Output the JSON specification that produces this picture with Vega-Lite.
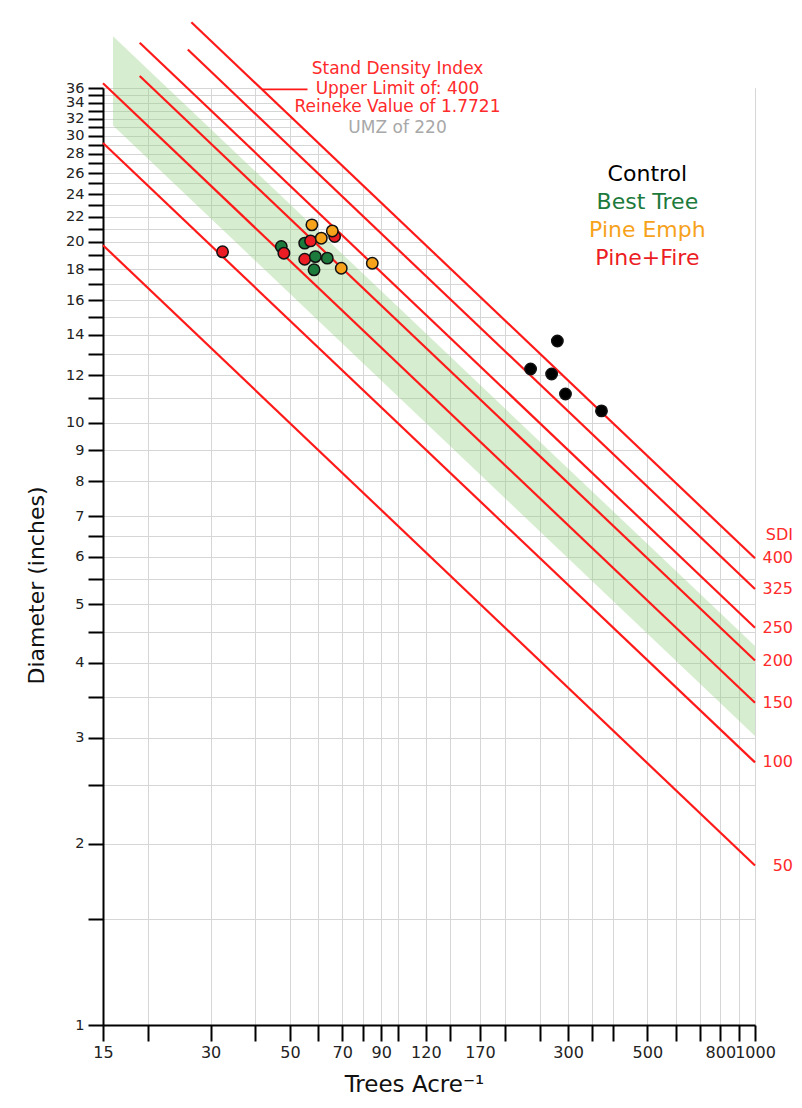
{
  "$schema": "https://vega.github.io/schema/vega-lite/v6.json",
  "width": 652,
  "height": 937,
  "autosize": {"type": "none"},
  "padding": {"left": 103, "top": 88, "right": 47, "bottom": 83},
  "background": "white",
  "config": {
    "font": "DejaVu Sans",
    "view": {"stroke": null},
    "axis": {
      "grid": true,
      "gridColor": "#d6d6d6",
      "gridWidth": 1,
      "domainColor": "#000000",
      "domainWidth": 2,
      "tickColor": "#000000",
      "tickWidth": 2,
      "labelColor": "#222222",
      "labelFontSize": 17,
      "labelOverlap": false,
      "labelFlush": false,
      "labelBound": false,
      "titleColor": "#111111",
      "titleFontWeight": "normal",
      "titleFontSize": 22
    }
  },
  "datasets": {
    "sdi": [
      {"sdi": 400, "tpa": 26.5, "d": 46.3}, {"sdi": 400, "tpa": 1000, "d": 5.96},
      {"sdi": 325, "tpa": 25.9, "d": 41.7}, {"sdi": 325, "tpa": 1000, "d": 5.30},
      {"sdi": 250, "tpa": 19.0, "d": 42.8}, {"sdi": 250, "tpa": 1000, "d": 4.57},
      {"sdi": 200, "tpa": 19.0, "d": 37.7}, {"sdi": 200, "tpa": 1000, "d": 4.03},
      {"sdi": 150, "tpa": 15, "d": 36.66}, {"sdi": 150, "tpa": 1000, "d": 3.43},
      {"sdi": 100, "tpa": 15, "d": 29.17}, {"sdi": 100, "tpa": 1000, "d": 2.73},
      {"sdi": 50, "tpa": 15, "d": 19.73}, {"sdi": 50, "tpa": 1000, "d": 1.84}
    ],
    "umz": [
      {"tpa": 16, "upper": 43.9, "lower": 31.2},
      {"tpa": 1000, "upper": 4.26, "lower": 3.02}
    ],
    "stands": [
      {"treatment": "Control", "tpa": 235.6, "dbh": 12.29},
      {"treatment": "Control", "tpa": 269.8, "dbh": 12.06},
      {"treatment": "Control", "tpa": 280, "dbh": 13.68},
      {"treatment": "Control", "tpa": 295, "dbh": 11.17},
      {"treatment": "Control", "tpa": 372, "dbh": 10.47},
      {"treatment": "Best Tree", "tpa": 47.3, "dbh": 19.63},
      {"treatment": "Best Tree", "tpa": 55.0, "dbh": 19.89},
      {"treatment": "Pine+Fire", "tpa": 55.0, "dbh": 18.70},
      {"treatment": "Best Tree", "tpa": 58.9, "dbh": 18.89},
      {"treatment": "Best Tree", "tpa": 63.6, "dbh": 18.78},
      {"treatment": "Best Tree", "tpa": 58.4, "dbh": 17.96},
      {"treatment": "Pine+Fire", "tpa": 32.4, "dbh": 19.24},
      {"treatment": "Pine+Fire", "tpa": 48.1, "dbh": 19.14},
      {"treatment": "Pine+Fire", "tpa": 57.1, "dbh": 20.06},
      {"treatment": "Pine+Fire", "tpa": 66.7, "dbh": 20.40},
      {"treatment": "Pine Emph", "tpa": 57.6, "dbh": 21.33},
      {"treatment": "Pine Emph", "tpa": 61.2, "dbh": 20.27},
      {"treatment": "Pine Emph", "tpa": 65.7, "dbh": 20.84},
      {"treatment": "Pine Emph", "tpa": 69.6, "dbh": 18.07},
      {"treatment": "Pine Emph", "tpa": 85.0, "dbh": 18.42}
    ]
  },
  "layer": [
    {
      "data": {"name": "sdi"},
      "transform": [{"filter": "datum.sdi == 400"}],
      "mark": {"type": "area", "fill": "white", "opacity": 1},
      "encoding": {
        "x": {
          "field": "tpa", "type": "quantitative",
          "scale": {"type": "log", "domain": [15, 1000], "nice": false},
          "axis": {
            "title": "Trees Acre⁻¹",
            "values": [15, 20, 30, 40, 50, 60, 70, 80, 90, 100, 120, 140, 170, 200, 250, 300, 350, 400, 500, 600, 700, 800, 900, 1000],
            "labelExpr": "indexof([15,30,50,70,90,120,170,300,500,800,1000], datum.value) >= 0 ? '' + datum.value : ''",
            "tickSize": 16,
            "labelPadding": 3,
            "labelFontSize": 16,
            "titleFontSize": 23,
            "titleX": 311,
            "titleY": 66,
            "titleAlign": "center",
            "titleBaseline": "alphabetic"
          }
        },
        "y": {
          "field": "d", "type": "quantitative",
          "scale": {"type": "log", "domain": [1, 36], "nice": false},
          "axis": {
            "title": "Diameter (inches)",
            "values": [1, 1.5, 2, 2.5, 3, 3.5, 4, 4.5, 5, 5.5, 6, 6.5, 7, 8, 9, 10, 11, 12, 13, 14, 15, 16, 17, 18, 19, 20, 21, 22, 23, 24, 25, 26, 27, 28, 29, 30, 31, 32, 33, 34, 35, 36],
            "labelExpr": "((datum.value <= 10 && datum.value % 1 == 0) || (datum.value > 10 && datum.value % 2 == 0)) ? '' + datum.value : ''",
            "tickSize": 15,
            "labelPadding": 4,
            "labelFontSize": 14.5,
            "titleX": -60,
            "titleY": 497,
            "titleAngle": -90,
            "titleAlign": "center",
            "titleBaseline": "alphabetic"
          }
        },
        "y2": {"datum": 36.5}
      }
    },
    {
      "data": {"name": "umz"},
      "mark": {"type": "area", "fill": "#8fcf7e", "fillOpacity": 0.37},
      "encoding": {
        "x": {"field": "tpa", "type": "quantitative"},
        "y": {"field": "upper", "type": "quantitative"},
        "y2": {"field": "lower"}
      }
    },
    {
      "data": {"name": "sdi"},
      "mark": {"type": "line", "color": "#ff1a1a", "strokeWidth": 2.2},
      "encoding": {
        "x": {"field": "tpa", "type": "quantitative"},
        "y": {"field": "d", "type": "quantitative"},
        "detail": {"field": "sdi", "type": "nominal"}
      }
    },
    {
      "data": {"values": [{}]},
      "mark": {"type": "rule", "color": "#ff1a1a", "strokeWidth": 1.8},
      "encoding": {
        "x": {"datum": 41.8},
        "x2": {"datum": 56},
        "y": {"datum": 35.8}
      }
    },
    {
      "data": {"name": "stands"},
      "mark": {"type": "point", "filled": true, "size": 130, "stroke": "#111111", "strokeWidth": 1.5, "opacity": 1},
      "encoding": {
        "x": {"field": "tpa", "type": "quantitative"},
        "y": {"field": "dbh", "type": "quantitative"},
        "color": {
          "field": "treatment", "type": "nominal",
          "scale": {
            "domain": ["Control", "Best Tree", "Pine Emph", "Pine+Fire"],
            "range": ["#000000", "#1c7a3c", "#f7a21b", "#ec1c24"]
          },
          "legend": null
        }
      }
    },
    {
      "data": {"values": [{}]},
      "mark": {"type": "text", "align": "center", "baseline": "middle", "fontSize": 22, "color": "#000000"},
      "encoding": {"x": {"datum": 500}, "y": {"datum": 25.9}, "text": {"value": "Control"}}
    },
    {
      "data": {"values": [{}]},
      "mark": {"type": "text", "align": "center", "baseline": "middle", "fontSize": 22, "color": "#1c7a3c"},
      "encoding": {"x": {"datum": 500}, "y": {"datum": 23.3}, "text": {"value": "Best Tree"}}
    },
    {
      "data": {"values": [{}]},
      "mark": {"type": "text", "align": "center", "baseline": "middle", "fontSize": 22, "color": "#f7a21b"},
      "encoding": {"x": {"datum": 500}, "y": {"datum": 20.9}, "text": {"value": "Pine Emph"}}
    },
    {
      "data": {"values": [{}]},
      "mark": {"type": "text", "align": "center", "baseline": "middle", "fontSize": 22, "color": "#ec1c24"},
      "encoding": {"x": {"datum": 500}, "y": {"datum": 18.8}, "text": {"value": "Pine+Fire"}}
    },
    {
      "data": {"name": "sdi"},
      "transform": [{"filter": "datum.tpa == 1000"}],
      "mark": {"type": "text", "align": "right", "baseline": "middle", "dx": 38, "fontSize": 16, "color": "#ff2a2a"},
      "encoding": {
        "x": {"field": "tpa", "type": "quantitative"},
        "y": {"field": "d", "type": "quantitative"},
        "text": {"field": "sdi", "type": "nominal"}
      }
    },
    {
      "data": {"values": [{}]},
      "mark": {"type": "text", "align": "right", "baseline": "middle", "dx": 38, "fontSize": 16, "color": "#ff2a2a"},
      "encoding": {"x": {"datum": 1000}, "y": {"datum": 6.52}, "text": {"value": "SDI"}}
    },
    {
      "data": {"values": [{}]},
      "mark": {"type": "text", "align": "center", "baseline": "middle", "fontSize": 17, "color": "#ff2a2a"},
      "encoding": {"x": {"datum": 100}, "y": {"datum": 38.7}, "text": {"value": "Stand Density Index"}}
    },
    {
      "data": {"values": [{}]},
      "mark": {"type": "text", "align": "center", "baseline": "middle", "fontSize": 17, "color": "#ff2a2a"},
      "encoding": {"x": {"datum": 100}, "y": {"datum": 35.9}, "text": {"value": "Upper Limit of: 400"}}
    },
    {
      "data": {"values": [{}]},
      "mark": {"type": "text", "align": "center", "baseline": "middle", "fontSize": 17, "color": "#ff2a2a"},
      "encoding": {"x": {"datum": 100}, "y": {"datum": 33.5}, "text": {"value": "Reineke Value of 1.7721"}}
    },
    {
      "data": {"values": [{}]},
      "mark": {"type": "text", "align": "center", "baseline": "middle", "fontSize": 17, "color": "#a8a8a8"},
      "encoding": {"x": {"datum": 100}, "y": {"datum": 30.9}, "text": {"value": "UMZ of  220"}}
    }
  ]
}
